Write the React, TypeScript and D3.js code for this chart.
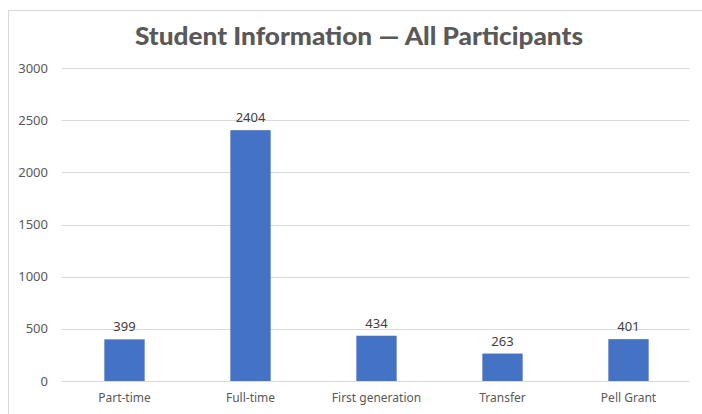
import React from "react";
import * as d3 from "d3";

const categories = ["Part-time", "Full-time", "First generation", "Transfer", "Pell Grant"];
const counts = [399, 2404, 434, 263, 401];
const yTicks = [0, 500, 1000, 1500, 2000, 2500, 3000];
const chartTitle = "Student Information \u2014 All Participants";

const W = 702;
const H = 414;

const App = () => {
  const left = 61.5;
  const right = 691.5;
  const top = 68;
  const bottom = 381;

  const x = d3.scaleBand<string>().domain(categories).range([left, right]).padding(0);
  const y = d3.scaleLinear().domain([0, 3000]).range([bottom, top]);
  const barW = x.bandwidth() * 0.32;

  return (
    <svg
      width={W}
      height={H}
      style={{ position: "absolute", left: 0, top: 0, display: "block", background: "#fff" }}
    >
      {/* chart frame, cut off on the right and bottom */}
      <rect x={8.5} y={10.5} width={720} height={420} fill="#fff" stroke="#d9d9d9" />

      <text
        x={359}
        y={45}
        textAnchor="middle"
        fontFamily="Lato, 'Open Sans', sans-serif"
        fontWeight={900}
        fontSize={24}
        textLength={448}
        lengthAdjust="spacingAndGlyphs"
        fill="#595959"
      >
        {chartTitle}
      </text>

      {/* gridlines + y labels */}
      {yTicks.map((t) => (
        <g key={t}>
          <line x1={left} x2={right - 2} y1={Math.round(y(t)) + 0.5} y2={Math.round(y(t)) + 0.5} stroke="#d9d9d9" />
          <text
            x={48}
            y={y(t)}
            dy="0.35em"
            textAnchor="end"
            fontFamily="'Noto Sans', sans-serif"
            fontSize={13}
            fill="#595959"
          >
            {t}
          </text>
        </g>
      ))}

      {/* bars */}
      {categories.map((c, i) => {
        const cx = (x(c) as number) + x.bandwidth() / 2;
        return (
          <g key={c}>
            <rect
              x={cx - barW / 2}
              y={y(counts[i])}
              width={barW}
              height={y(0) - y(counts[i])}
              fill="#4472c4"
            />
            <text
              x={cx}
              y={y(counts[i]) - 8}
              textAnchor="middle"
              fontFamily="'Noto Sans', sans-serif"
              fontSize={13}
              fill="#404040"
            >
              {counts[i]}
            </text>
            <text
              x={cx}
              y={402}
              textAnchor="middle"
              fontFamily="'Noto Sans', sans-serif"
              fontSize={12}
              fill="#595959"
            >
              {c}
            </text>
          </g>
        );
      })}
    </svg>
  );
};

export default App;
